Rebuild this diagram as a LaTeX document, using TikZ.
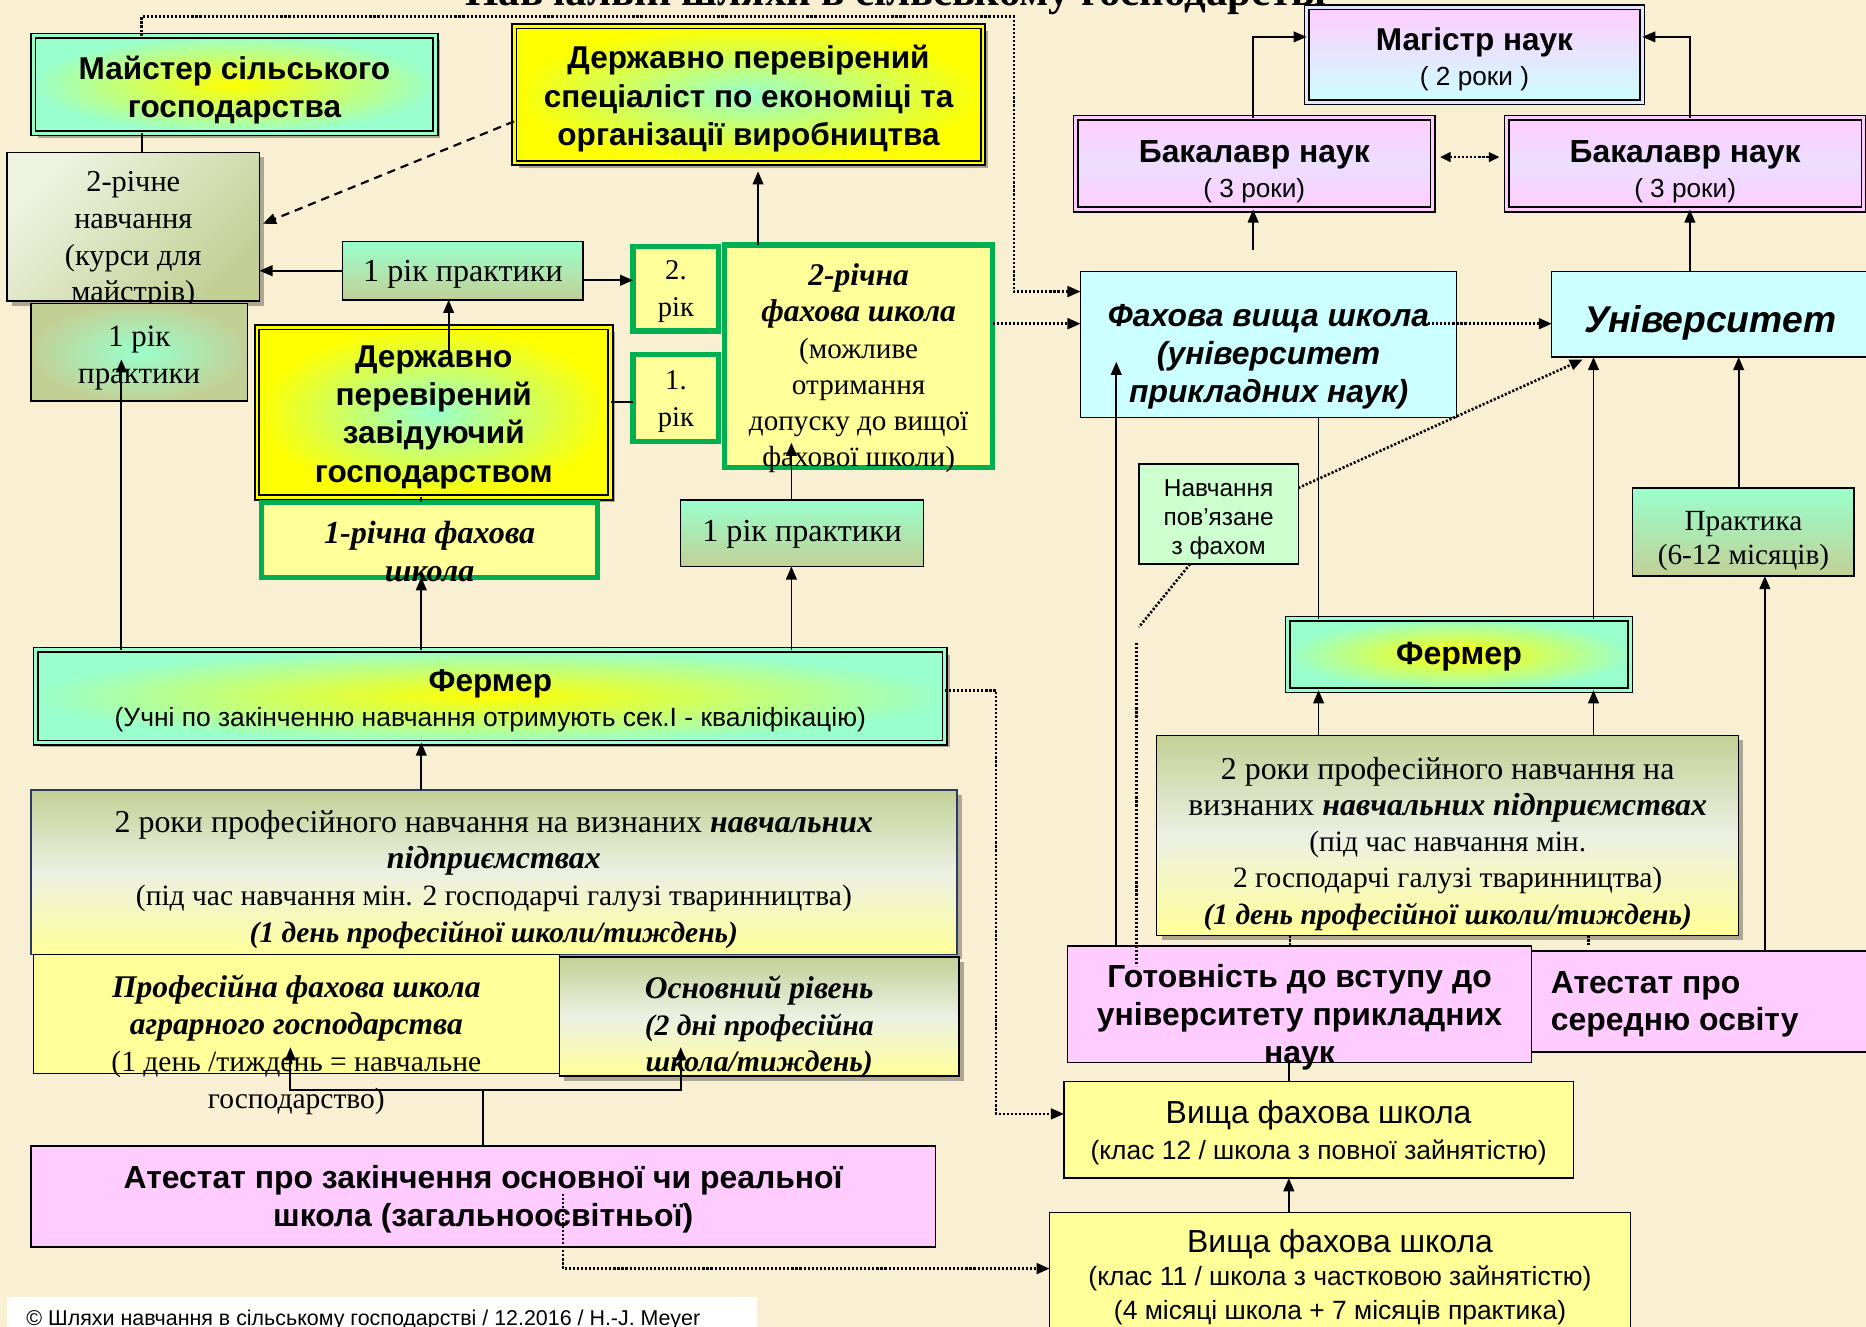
\documentclass[tikz,border=0pt]{standalone}
\usepackage{fontspec}
\setmainfont{Liberation Serif}
\setsansfont{Liberation Sans}
\usetikzlibrary{arrows.meta,shadows}
\newcommand\myfs[2]{\fontsize{#1}{#2}\selectfont}
\definecolor{bgc}{RGB}{249,239,210}
\definecolor{aqua}{RGB}{153,255,204}
\definecolor{yel}{RGB}{255,255,0}
\definecolor{lyel}{RGB}{255,255,153}
\definecolor{oliv}{RGB}{194,208,150}
\definecolor{whi}{RGB}{236,240,226}
\definecolor{lite}{RGB}{238,243,224}
\definecolor{pnk}{RGB}{255,204,255}
\definecolor{cyn}{RGB}{204,255,255}
\definecolor{grn}{RGB}{0,176,80}
\definecolor{lgrn}{RGB}{206,255,206}
\definecolor{lav}{RGB}{236,222,255}
\definecolor{navy}{RGB}{40,60,100}
\begin{document}
\begin{tikzpicture}[x=1pt,y=-1pt,
  bx/.style={anchor=north west, inner sep=0pt, outer sep=0pt},
  tx/.style={align=center, inner sep=0pt},
  tb/.style={draw=black, line width=1.2pt},
  dbl/.style={draw=black, line width=1.4pt, double distance=2.4pt},
  gbox/.style={draw=grn, line width=4.5pt, fill=lyel},
  vgrad/.style={top color=aqua, bottom color=oliv},
  ln/.style={line width=1.5pt},
  tip/.style={-{Triangle[length=11pt,width=9pt]}},
  arr/.style={line width=1.5pt, tip},
  dotl/.style={line width=2.2pt, dash pattern=on 1.8pt off 1.6pt},
  dotarr/.style={dotl, tip},
  dsh/.style={line width=1.8pt, dash pattern=on 7pt off 5pt, tip},
  shad/.style={drop shadow={shadow xshift=4pt, shadow yshift=-4pt, opacity=0.3, fill=black}},
]
\useasboundingbox (0,0) rectangle (1568,1115);
\clip (0,0) rectangle (1568,1115);
\fill[bgc] (0,0) rectangle (1568,1115);

\node[anchor=base, inner sep=0pt, font=\bfseries\myfs{36}{40}] (title) at (753,5) {Навчальні шляхи в сільському господарстві};

% ---------- left part ----------
\node[bx, inner color=yel, outer color=aqua, dbl, double=aqua, shad, minimum width=338pt, minimum height=82pt] (mays) at (28,30) {};
\node[tx, font=\sffamily\bfseries\myfs{26.5}{32}] (mays-t) at ([yshift=-5pt]mays.center) {Майстер сільського\\господарства};

\node[bx, inner color=aqua, outer color=yel, dbl, double=yel, shad, minimum width=394pt, minimum height=115pt] (spec) at (432,22) {};
\node[tx, font=\sffamily\bfseries\myfs{26.5}{32.5}] (spec-t) at ([yshift=-3.5pt]spec.center) {Державно перевірений\\спеціаліст по економіці та\\організації виробництва};

\node[bx, top color=lite, bottom color=oliv, shading angle=45, tb, shad, minimum width=212pt, minimum height=125pt] (nav2) at (6,128) {};
\node[tx, font=\myfs{25.5}{31}] (nav2-t) at ([yshift=-11pt]nav2.center) {2-річне\\навчання\\(курси для\\майстрів)};

\node[bx, inner color=aqua, outer color=oliv, tb, minimum width=182pt, minimum height=82pt] (prak1) at (26,255) {};
\node[tx, font=\myfs{26}{31}] (prak1-t) at ([yshift=-4.5pt]prak1.center) {1 рік\\практики};

\node[bx, vgrad, tb, minimum width=202pt, minimum height=49pt] (prak2) at (288,203) {};
\node[tx, font=\myfs{27}{31}] (prak2-t) at ([yshift=-3pt]prak2.center) {1 рік практики};

\node[bx, inner color=aqua, outer color=yel, dbl, double=yel, shad, minimum width=297pt, minimum height=143pt] (zav) at (216,275) {};
\node[tx, font=\sffamily\bfseries\myfs{26.5}{32.3}] (zav-t) at ([yshift=-4pt]zav.center) {Державно\\перевірений\\завідуючий\\господарством};

\node[bx, gbox, minimum width=282pt, minimum height=63pt] (shk1) at (220,422) {};
\node[tx, font=\bfseries\itshape\myfs{27}{32}] (shk1-t) at ([yshift=-10pt]shk1.center) {1-річна фахова\\школа};

\node[bx, gbox, minimum width=72pt, minimum height=71pt] (y2) at (532,207) {};
\node[tx, font=\myfs{24}{31}] (y2-t) at ([yshift=-2.5pt]y2.center) {2.\\рік};
\node[bx, gbox, minimum width=72pt, minimum height=73pt] (y1) at (532,298) {};
\node[tx, font=\myfs{24}{31}] (y1-t) at ([yshift=-3pt]y1.center) {1.\\рік};
\node[bx, gbox, minimum width=225pt, minimum height=187pt] (shk2) at (609,206) {};
\node[tx, font=\myfs{24.5}{30.4}] (shk2-t) at ([yshift=-10pt]shk2.center) {{\bfseries\itshape\myfs{26.5}{30.4}2-річна}\\{\bfseries\itshape\myfs{26.5}{30.4}фахова школа}\\(можливе\\отримання\\допуску до вищої\\фахової школи)};

\node[bx, vgrad, tb, minimum width=204pt, minimum height=56pt] (prak3) at (572,420) {};
\node[tx, font=\myfs{27}{31}] (prak3-t) at ([yshift=-1pt]prak3.center) {1 рік практики};

\node[bx, inner color=yel, outer color=aqua, dbl, double=aqua, shad, minimum width=764pt, minimum height=78pt] (ferm1) at (30,546) {};
\node[tx, font=\sffamily\myfs{22.2}{29}] (ferm1-t) at ([yshift=-4pt]ferm1.center) {{\bfseries\myfs{26.5}{29}Фермер}\\(Учні по закінченню навчання отримують сек.I - кваліфікацію)};

\node[bx, top color=oliv, bottom color=lyel, middle color=whi, draw=navy, line width=1.2pt, shad, minimum width=778pt, minimum height=138pt] (rok2L) at (26,664) {};
\node[tx, font=\myfs{24.8}{31}] (rok2L-t) at ([yshift=-6pt]rok2L.center) {{\myfs{26.8}{31}2 роки професійного навчання на визнаних \textbf{\textit{навчальних}}}\\{\myfs{26.8}{31}\textbf{\textit{підприємствах}}}\\(під час навчання мін. 2 господарчі галузі тваринництва)\\\textbf{\textit{(1 день професійної школи/тиждень)}}};

\node[bx, fill=lyel, tb, minimum width=442pt, minimum height=100pt] (prof) at (28,802) {};
\node[tx, font=\myfs{24.8}{31}] (prof-t) at ([yshift=-26pt]prof.center) {{\myfs{26.5}{31}\textbf{\textit{Професійна фахова школа}}}\\{\myfs{26.5}{31}\textbf{\textit{аграрного господарства}}}\\(1 день /тиждень = навчальне\\господарство)};

\node[bx, top color=oliv, bottom color=lyel, middle color=whi, tb, shad, minimum width=336pt, minimum height=100pt] (osn) at (470,804) {};
\node[tx, font=\bfseries\itshape\myfs{25}{30.5}] (osn-t) at ([yshift=-9pt]osn.center) {{\myfs{26.5}{30.5}Основний рівень}\\(2 дні професійна\\школа/тиждень)};

\node[bx, fill=pnk, tb, minimum width=760pt, minimum height=85pt] (atestL) at (26,963) {};
\node[tx, font=\sffamily\bfseries\myfs{26.8}{32}] (atestL-t) at ([yshift=-2pt]atestL.center) {Атестат про закінчення основної чи реальної\\школа (загальноосвітньої)};

\node[bx, fill=white, minimum width=630pt, minimum height=40pt] (foot) at (6,1090) {};
\node[anchor=base west, inner sep=0pt, font=\sffamily\myfs{18}{20}] (foot-t) at (22,1114) {© Шляхи навчання в сільському господарстві / 12.2016 / H.-J. Meyer};

% ---------- right part ----------
\node[bx, top color=pnk, bottom color=cyn, dbl, double=pnk!50!cyn, minimum width=282pt, minimum height=80pt] (mag) at (1098,6) {};
\node[tx, font=\sffamily\myfs{22}{29}] (mag-t) at ([yshift=-4pt]mag.center) {{\bfseries\myfs{26.5}{29}Магістр наук}\\( 2 роки )};

\node[bx, top color=pnk, bottom color=pnk, middle color=lav, dbl, double=pnk, minimum width=300pt, minimum height=77pt] (bakL) at (904,99) {};
\node[tx, font=\sffamily\myfs{22}{29}] (bakL-t) at ([yshift=-7pt]bakL.center) {{\bfseries\myfs{26.8}{29}Бакалавр наук}\\( 3 роки)};
\node[bx, top color=pnk, bottom color=pnk, middle color=lav, dbl, double=pnk, minimum width=300pt, minimum height=77pt] (bakR) at (1266,99) {};
\node[tx, font=\sffamily\myfs{22}{29}] (bakR-t) at ([yshift=-7pt]bakR.center) {{\bfseries\myfs{26.8}{29}Бакалавр наук}\\( 3 роки)};

\node[bx, fill=cyn, draw=black, line width=1pt, minimum width=316pt, minimum height=123pt] (fvs) at (908,228) {};
\node[tx, font=\sffamily\bfseries\itshape\myfs{26.8}{32}] (fvs-t) at ([yshift=-10pt]fvs.center) {Фахова вища школа\\(університет\\прикладних наук)};

\node[bx, fill=cyn, draw=black, line width=1pt, minimum width=270pt, minimum height=72pt] (univ) at (1304,228) {};
\node[tx, font=\sffamily\bfseries\itshape\myfs{31.3}{36}] (univ-t) at ([xshift=-2pt,yshift=-7pt]univ.center) {Університет};

\node[bx, fill=lgrn, tb, minimum width=134pt, minimum height=84pt] (navf) at (957,390) {};
\node[tx, font=\sffamily\myfs{20.5}{24.5}] (navf-t) at ([yshift=-4.5pt]navf.center) {Навчання\\пов'язане\\з фахом};

\node[bx, vgrad, tb, minimum width=186pt, minimum height=74pt] (prakt) at (1372,410) {};
\node[tx, font=\myfs{24.6}{29}] (prakt-t) at ([yshift=-7.5pt]prakt.center) {Практика\\(6-12 місяців)};

\node[bx, inner color=yel, outer color=aqua, dbl, double=aqua, minimum width=288pt, minimum height=60pt] (fermR) at (1082,520) {};
\node[tx, font=\sffamily\bfseries\myfs{27}{29}] (fermR-t) at ([yshift=-2pt]fermR.center) {Фермер};

\node[bx, top color=oliv, bottom color=lyel, middle color=whi, tb, shad, minimum width=489pt, minimum height=168pt] (rok2R) at (972,618) {};
\node[tx, font=\myfs{24.8}{30.5}] (rok2R-t) at ([yshift=-7pt]rok2R.center) {{\myfs{26.8}{30.5}2 роки професійного навчання на}\\{\myfs{26.8}{30.5}визнаних \textbf{\textit{навчальних підприємствах}}}\\(під час навчання мін.\\2 господарчі галузі тваринництва)\\\textbf{\textit{(1 день професійної школи/тиждень)}}};

\node[bx, fill=pnk, tb, minimum width=285pt, minimum height=85pt] (atestR) at (1287,799) {};
\node[anchor=west, inner sep=0pt, align=left, font=\sffamily\bfseries\myfs{26.8}{31}] (atestR-t) at (1303,844) {Атестат про\\середню освіту};

\node[bx, fill=pnk, tb, minimum width=390pt, minimum height=98pt] (got) at (897,795) {};
\node[tx, font=\sffamily\bfseries\myfs{26.8}{32}] (got-t) at ([yshift=-11pt]got.center) {Готовність до вступу до\\університету прикладних\\наук};

\node[bx, fill=lyel, tb, minimum width=428pt, minimum height=81pt] (vfs12) at (894,909) {};
\node[tx, font=\sffamily\myfs{22.2}{30}] (vfs12-t) at ([yshift=-2pt]vfs12.center) {{\myfs{26.8}{30}Вища фахова школа}\\(клас 12 / школа з повної зайнятістю)};

\node[bx, fill=lyel, tb, minimum width=488pt, minimum height=110pt] (vfs11) at (882,1019) {};
\node[tx, font=\sffamily\myfs{22.2}{28}] (vfs11-t) at (1126,1073) {{\myfs{26.8}{28}Вища фахова школа}\\(клас 11 / школа з частковою зайнятістю)\\(4 місяці школа + 7 місяців практика)};

% ---------- connectors ----------
\coordinate (k1) at (852,14);
\draw[dotarr] ([xshift=91pt]mays.north west) |- (k1) |- ([yshift=-17pt]fvs.north west);
\draw[dotarr] ([yshift=-66pt]shk2.north east) -- ([yshift=-44pt]fvs.north west);
\draw[dotarr] ([xshift=-24pt,yshift=-44pt]fvs.north east) -- ([yshift=-44pt]univ.north west);
\draw[dsh] ([yshift=-80pt]spec.north west) -- ([xshift=3pt,yshift=-60pt]nav2.north east);
\draw[arr] (prak2.west) -- (prak2.west -| nav2.east);
\draw[arr] ([yshift=-8pt]prak2.east) -- ([yshift=-8pt]prak2.east -| y2.west);
\draw[arr] ([xshift=28pt]shk2.north west) -- ++(0,-62);
\draw[ln] ([xshift=91pt]mays.south west) -- ([xshift=113pt]nav2.north west);
\draw[arr] ([xshift=161pt,yshift=-22pt]zav.north west) -- ([xshift=89pt]prak2.south west);
\draw[ln] ([xshift=138pt]zav.south west) -- ([xshift=134pt]shk1.north west);
\draw[arr] ([xshift=324pt]ferm1.north west) -- ([xshift=134pt]shk1.south west);
\draw[arr] ([xshift=72pt]ferm1.north west) -- ([xshift=76pt,yshift=-47pt]prak1.north west);
\draw[arr] ([xshift=635pt]ferm1.north west) -- ([xshift=93pt]prak3.south west);
\draw[arr] ([xshift=93pt]prak3.north west) -- ([xshift=56pt,yshift=-166pt]shk2.north west);
\draw[ln] ([yshift=-63pt]zav.north east) -- ([yshift=-63pt]zav.north east -| y1.west);
\draw[arr] ([xshift=328pt]rok2L.north west) -- ([xshift=324pt]ferm1.south west);
\coordinate (jn) at (406,916);
\draw[ln] ([xshift=380pt]atestL.north west) -- (jn);
\draw[arr] (jn) -| ([xshift=216pt,yshift=-78pt]prof.north west);
\draw[arr] (jn) -| ([xshift=102pt,yshift=-76pt]osn.north west);
\coordinate (k3) at (837,936);
\draw[dotarr] ([yshift=-34pt]ferm1.north east) -| (k3) -- (k3 -| vfs12.west);
\draw[dotarr] ([xshift=447pt,yshift=-40pt]atestL.north west) |- ([yshift=-47pt]vfs11.north west);
\draw[arr] ([xshift=201pt]vfs11.north west) -- ([xshift=189pt]vfs12.south west);
\draw[ln] ([xshift=189pt]vfs12.north west) -- ([xshift=186pt]got.south west);
\draw[arr] ([xshift=41pt]got.north west) -- ([xshift=30pt,yshift=-76pt]fvs.north west);
\draw[ln] ([xshift=200pt]fvs.south west) -- ([xshift=26pt]fermR.north west);
\draw[arr] ([xshift=257pt]fermR.north west) -- ([xshift=35pt]univ.south west);
\draw[arr] ([xshift=136pt]rok2R.north west) -- ([xshift=26pt]fermR.south west);
\draw[arr] ([xshift=367pt]rok2R.north west) -- ([xshift=257pt]fermR.south west);
\draw[arr] ([xshift=196pt]atestR.north west) -- ([xshift=111pt]prakt.south west);
\draw[arr] ([xshift=89pt]prakt.north west) -- ([xshift=157pt]univ.south west);
\draw[dotarr] ([yshift=-20pt]navf.north east) -- ([xshift=26pt,yshift=-2pt]univ.south west);
\coordinate (d1) at (957,527);
\coordinate (d2) at (955,540);
\draw[dotl] ([xshift=43pt]navf.south west) -- (d1);
\draw[dotl] (d2) -- ([xshift=58pt,yshift=-17pt]got.north west);
\draw[dotl] ([xshift=112pt]rok2R.south west) -- ++(0,8);
\draw[dotl] ([xshift=363pt]rok2R.south west) -- ++(0,8);
\draw[arr] ([xshift=149pt]bakL.north west) |- ([yshift=-25pt]mag.north west);
\draw[arr] ([xshift=154pt]bakR.north west) |- ([yshift=-25pt]mag.north east);
\draw[dotl, {Triangle[length=9pt,width=8pt]}-{Triangle[length=9pt,width=8pt]}, shorten <=6pt, shorten >=6pt] ([yshift=-33pt]bakL.north east) -- ([yshift=-33pt]bakR.north west);
\draw[arr] ([xshift=149pt,yshift=-34pt]bakL.south west) -- ([xshift=149pt]bakL.south west);
\draw[arr] ([xshift=116pt]univ.north west) -- ([xshift=154pt]bakR.south west);
\end{tikzpicture}
\end{document}
